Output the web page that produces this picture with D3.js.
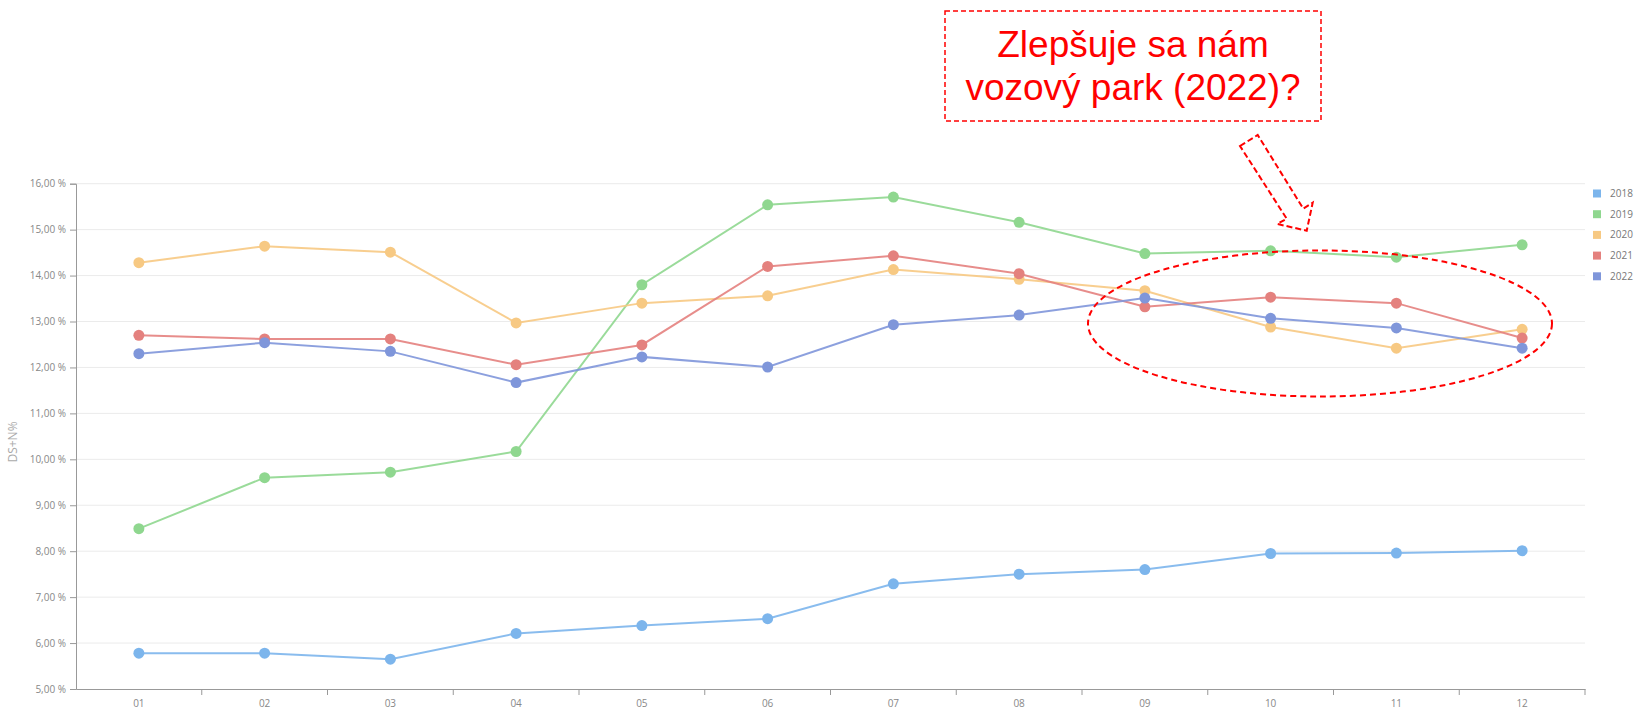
<!DOCTYPE html>
<html>
<head>
<meta charset="utf-8">
<script src="https://cdn.jsdelivr.net/npm/d3@7"></script>
<style>
  html, body { margin: 0; padding: 0; background: #fff; }
  svg { display: block; }
</style>
</head>
<body>
<svg id="chart" width="1637" height="712"></svg>
<script>
const months = ["01","02","03","04","05","06","07","08","09","10","11","12"];
const seriesNames = ["2018","2019","2020","2021","2022"];
const colors = ["#7cb5ec","#8fd78f","#f7c983","#e4817e","#7f96da"];
const v2018 = [5.78,5.78,5.65,6.21,6.38,6.53,7.29,7.50,7.60,7.95,7.96,8.01];
const v2019 = [8.49,9.60,9.72,10.17,13.80,15.54,15.71,15.16,14.48,14.54,14.40,14.67];
const v2020 = [14.28,14.64,14.51,12.97,13.40,13.56,14.13,13.92,13.67,12.88,12.42,12.83];
const v2021 = [12.70,12.62,12.62,12.06,12.49,14.20,14.43,14.04,13.32,13.53,13.40,12.64];
const v2022 = [12.30,12.54,12.35,11.67,12.23,12.01,12.93,13.14,13.51,13.07,12.86,12.42];
const yTicks = [5,6,7,8,9,10,11,12,13,14,15,16];
const yTitle = "DS+N%";
const noteLines = ["Zlepšuje sa nám", "vozový park (2022)?"];

const series = [v2018, v2019, v2020, v2021, v2022];

const svg = d3.select("#chart");
const plotLeft = 76, plotRight = 1585, plotTop = 183.7, plotBottom = 689;

const x = d3.scaleBand().domain(months).range([plotLeft, plotRight]).padding(0);
const cx = m => x(m) + x.bandwidth() / 2;
const y = d3.scaleLinear().domain([5, 16]).range([plotBottom, plotTop]);

const fmt = v => v.toFixed(2).replace(".", ",") + " %";
const axisFont = "'Open Sans', 'Noto Sans', sans-serif";

// gridlines
svg.append("g").selectAll("line").data(yTicks.filter(t => t > 5)).join("line")
  .attr("x1", plotLeft).attr("x2", plotRight)
  .attr("y1", d => y(d)).attr("y2", d => y(d))
  .attr("stroke", "#ebebeb").attr("stroke-width", 1);

// y axis
const yAxis = svg.append("g").attr("transform", `translate(${plotLeft},0)`)
  .call(d3.axisLeft(y).tickValues(yTicks).tickFormat(fmt).tickSize(6).tickPadding(4));
yAxis.select(".domain").attr("stroke", "#999");
yAxis.selectAll(".tick line").attr("stroke", "#999");
yAxis.selectAll("text").attr("fill", "#888").attr("font-size", 10).attr("font-family", axisFont);

// x axis (labels centered on bands, ticks on band boundaries)
const xAxis = svg.append("g").attr("transform", `translate(0,${plotBottom})`)
  .call(d3.axisBottom(x).tickSize(0).tickPadding(11));
xAxis.select(".domain").attr("stroke", "#999");
xAxis.selectAll("text").attr("fill", "#888").attr("font-size", 10).attr("font-family", axisFont);
svg.append("g").selectAll("line").data(months.slice(1).concat(["end"])).join("line")
  .attr("x1", d => d === "end" ? plotRight : x(d)).attr("x2", d => d === "end" ? plotRight : x(d))
  .attr("y1", plotBottom).attr("y2", plotBottom + 6)
  .attr("stroke", "#999");

// y title
svg.append("text")
  .attr("transform", `translate(17,442) rotate(-90)`)
  .attr("text-anchor", "middle")
  .attr("fill", "#aaa").attr("font-size", 12).attr("font-family", axisFont)
  .text(yTitle);

// lines and points
const line = d3.line().x((d, i) => cx(months[i])).y(d => y(d));
series.forEach((vals, si) => {
  svg.append("path").datum(vals)
    .attr("d", line).attr("fill", "none")
    .attr("stroke", colors[si]).attr("stroke-width", 2).attr("stroke-opacity", 0.9);
});
series.forEach((vals, si) => {
  svg.append("g").selectAll("circle").data(vals).join("circle")
    .attr("cx", (d, i) => cx(months[i])).attr("cy", d => y(d))
    .attr("r", 5.5).attr("fill", colors[si]);
});

// legend
const lg = svg.append("g").selectAll("g").data(seriesNames).join("g")
  .attr("transform", (d, i) => `translate(1593,${193.5 + i * 20.7})`);
lg.append("rect").attr("x", 0).attr("y", -4).attr("width", 8).attr("height", 8)
  .attr("fill", (d, i) => colors[i]);
lg.append("text").attr("x", 17).attr("y", 0).attr("dy", "0.35em")
  .attr("fill", "#777").attr("font-size", 10).attr("font-family", axisFont)
  .text(d => d);

// annotation box
svg.append("rect").attr("x", 945).attr("y", 11).attr("width", 376).attr("height", 110)
  .attr("fill", "none").attr("stroke", "#ff0000").attr("stroke-width", 1.5)
  .attr("stroke-dasharray", "5,3");
svg.append("g").selectAll("text").data(noteLines).join("text")
  .attr("x", 1133).attr("y", (d, i) => 57 + i * 43)
  .attr("text-anchor", "middle")
  .attr("fill", "#ff0000").attr("font-size", 37)
  .attr("font-family", "'Liberation Sans', Arial, sans-serif")
  .text(d => d);

// arrow
const arrow = [[1240,146],[1257.7,135],[1303.3,208.7],[1312.7,202.7],[1306.7,230.7],[1277.3,224],[1286.7,218.7]];
svg.append("polygon").attr("points", arrow.map(p => p.join(",")).join(" "))
  .attr("fill", "none").attr("stroke", "#ff0000").attr("stroke-width", 2)
  .attr("stroke-dasharray", "6,3");

// ellipse
svg.append("ellipse").attr("cx", 1320).attr("cy", 323.5).attr("rx", 232).attr("ry", 73)
  .attr("fill", "none").attr("stroke", "#ff0000").attr("stroke-width", 2)
  .attr("stroke-dasharray", "6,4");
</script>
</body>
</html>
